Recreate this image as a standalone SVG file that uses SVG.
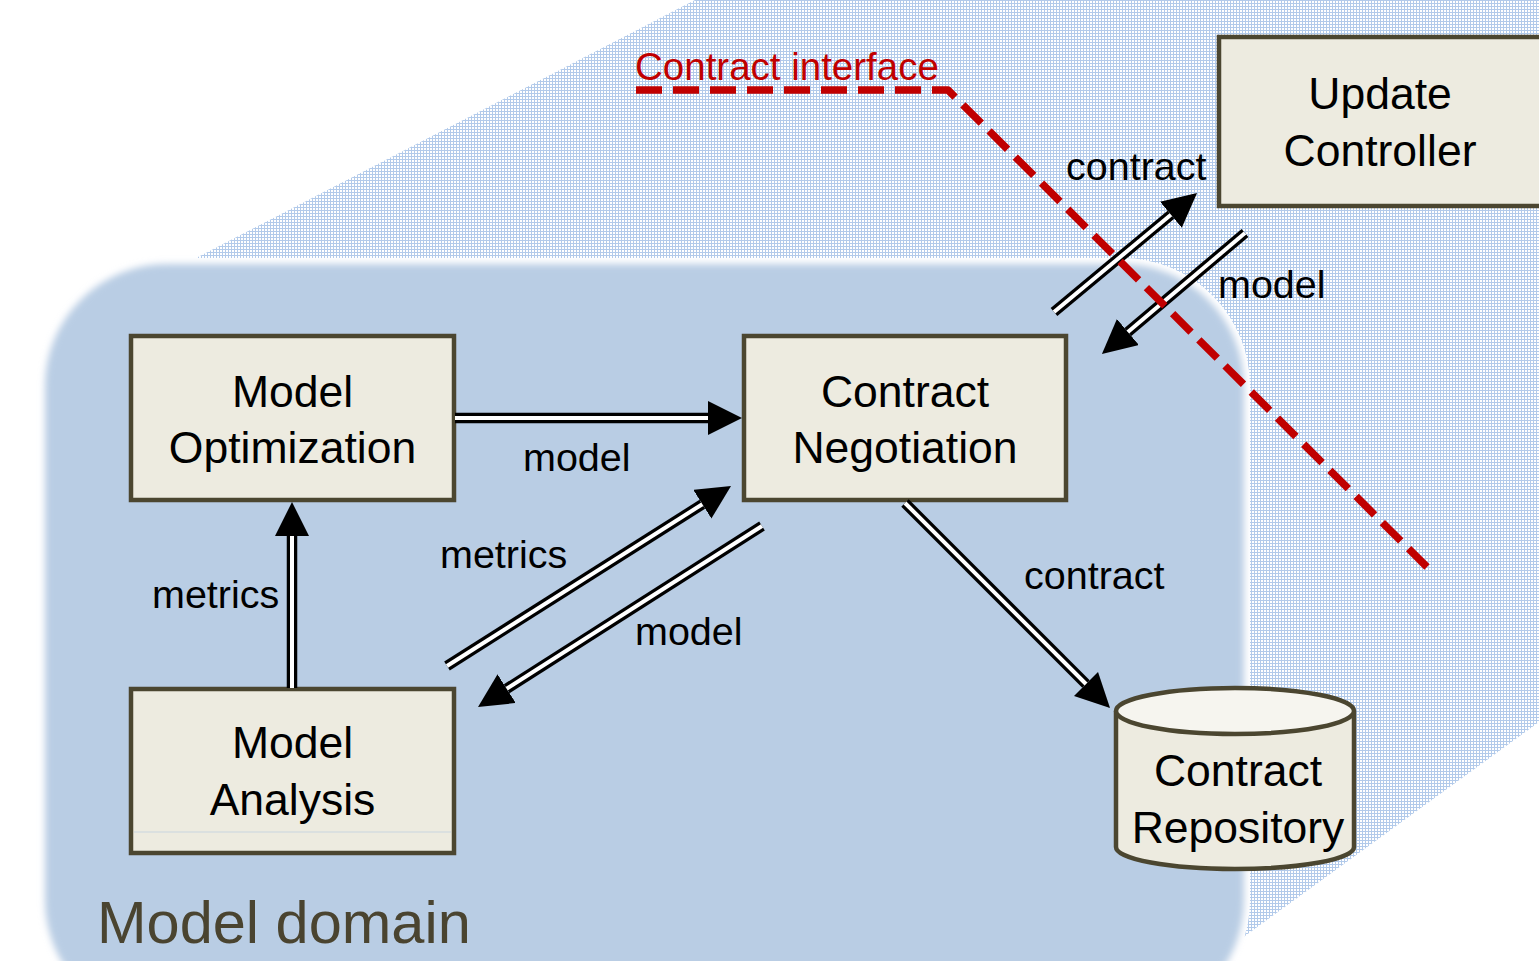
<svg xmlns="http://www.w3.org/2000/svg" width="1539" height="961" viewBox="0 0 1539 961">
  <defs>
    <style>
      .box { fill: #edebe0; stroke: #4b4630; stroke-width: 4.5; }
      .node-text { font-family: "Liberation Sans", Arial, sans-serif; font-size: 44.5px; fill: #000; text-anchor: middle; }
      .label { font-family: "Liberation Sans", Arial, sans-serif; font-size: 39.5px; fill: #000; }
      .shaft-outer { fill: none; stroke: #000; stroke-width: 10.5; stroke-linecap: butt; marker-end: url(#head); }
      .shaft-inner { fill: none; stroke: #fff; stroke-width: 4; stroke-linecap: butt; }
    </style>
    <pattern id="grid" width="3" height="3" patternUnits="userSpaceOnUse">
      <rect width="3" height="3" fill="#ffffff"/>
      <rect width="1" height="3" fill="#b2caea"/>
      <rect width="3" height="1" fill="#b2caea"/>
    </pattern>
    <filter id="soft" x="-5%" y="-5%" width="110%" height="110%">
      <feGaussianBlur stdDeviation="3.5"/>
    </filter>
    <marker id="head" markerUnits="userSpaceOnUse" markerWidth="36" markerHeight="36" refX="0" refY="17" orient="auto">
      <path d="M0,0 L34,17 L0,34 z" fill="#000"/>
    </marker>
  </defs>

  <!-- white page -->
  <rect width="1539" height="961" fill="#ffffff"/>

  <!-- hatched outer region -->
  <polygon points="695,0 1539,0 1539,722 1234,944 196,944 196,258" fill="url(#grid)"/>

  <!-- Model domain area with soft edge -->
  <g id="model-domain">
    <rect x="40" y="258" width="1210" height="770" rx="128" ry="128" fill="#ffffff"/>
    <rect x="45" y="264" width="1199" height="758" rx="122" ry="122" fill="#b9cde4" filter="url(#soft)"/>
    <text x="97" y="943" font-family="Liberation Sans, Arial, sans-serif" font-size="59.5" fill="#4a4430">Model domain</text>
  </g>

  <!-- nodes -->
  <g id="model-optimization">
    <rect class="box" x="131" y="336" width="323" height="164"/>
    <text class="node-text" x="292.5" y="407">Model</text>
    <text class="node-text" x="292.5" y="463">Optimization</text>
  </g>

  <g id="contract-negotiation">
    <rect class="box" x="744" y="336" width="322" height="164"/>
    <text class="node-text" x="905" y="407">Contract</text>
    <text class="node-text" x="905" y="463">Negotiation</text>
  </g>

  <g id="model-analysis">
    <rect class="box" x="131" y="689" width="323" height="164"/>
    <line x1="134" y1="832" x2="451" y2="832" stroke="#c9d5df" stroke-width="1"/>
    <text class="node-text" x="292.5" y="758">Model</text>
    <text class="node-text" x="292.5" y="815">Analysis</text>
  </g>

  <g id="update-controller">
    <rect class="box" x="1219" y="37" width="330" height="169"/>
    <text class="node-text" x="1380" y="109">Update</text>
    <text class="node-text" x="1380" y="166">Controller</text>
  </g>

  <g id="contract-repository">
    <path d="M1116,711 L1116,847 A119,22 0 0 0 1354,847 L1354,711" fill="#edebe0" stroke="#4b4630" stroke-width="4.5"/>
    <ellipse cx="1235" cy="711" rx="119" ry="23" fill="#f6f5ef" stroke="#4b4630" stroke-width="4.5"/>
    <text class="node-text" x="1238" y="786">Contract</text>
    <text class="node-text" x="1238" y="843">Repository</text>
  </g>

  <!-- connectors: double-line arrows -->
  <g id="connectors">
    <path class="shaft-outer" d="M455,418 L708,418"/>
    <path class="shaft-inner" d="M455,418 L708,418"/>

    <path class="shaft-outer" d="M292,688 L292,536"/>
    <path class="shaft-inner" d="M292,688 L292,536"/>

    <path class="shaft-outer" d="M447,666 L702.3,504.2"/>
    <path class="shaft-inner" d="M447,666 L702.3,504.2"/>

    <path class="shaft-outer" d="M762,526 L506.7,688.7"/>
    <path class="shaft-inner" d="M762,526 L506.7,688.7"/>

    <path class="shaft-outer" d="M905,503 L1086,684"/>
    <path class="shaft-inner" d="M905,503 L1086,684"/>

    <path class="shaft-outer" d="M1054,312 L1170.9,214.8"/>
    <path class="shaft-inner" d="M1054,312 L1170.9,214.8"/>

    <path class="shaft-outer" d="M1245,233 L1127.9,332"/>
    <path class="shaft-inner" d="M1245,233 L1127.9,332"/>

    <text class="label" x="523" y="471">model</text>
    <text class="label" x="440" y="568">metrics</text>
    <text class="label" x="635" y="645">model</text>
    <text class="label" x="152" y="608">metrics</text>
    <text class="label" x="1024" y="589">contract</text>
    <text class="label" x="1066" y="180">contract</text>
    <text class="label" x="1218" y="298">model</text>
  </g>

  <!-- contract interface boundary -->
  <g id="contract-interface">
    <path d="M636,90 L948,90 L1432,572" fill="none" stroke="#c00000" stroke-width="7.5" stroke-dasharray="26,11" stroke-linejoin="round"/>
    <text x="635" y="80" font-family="Liberation Sans, Arial, sans-serif" font-size="38.5" fill="#c00000">Contract interface</text>
  </g>
</svg>
